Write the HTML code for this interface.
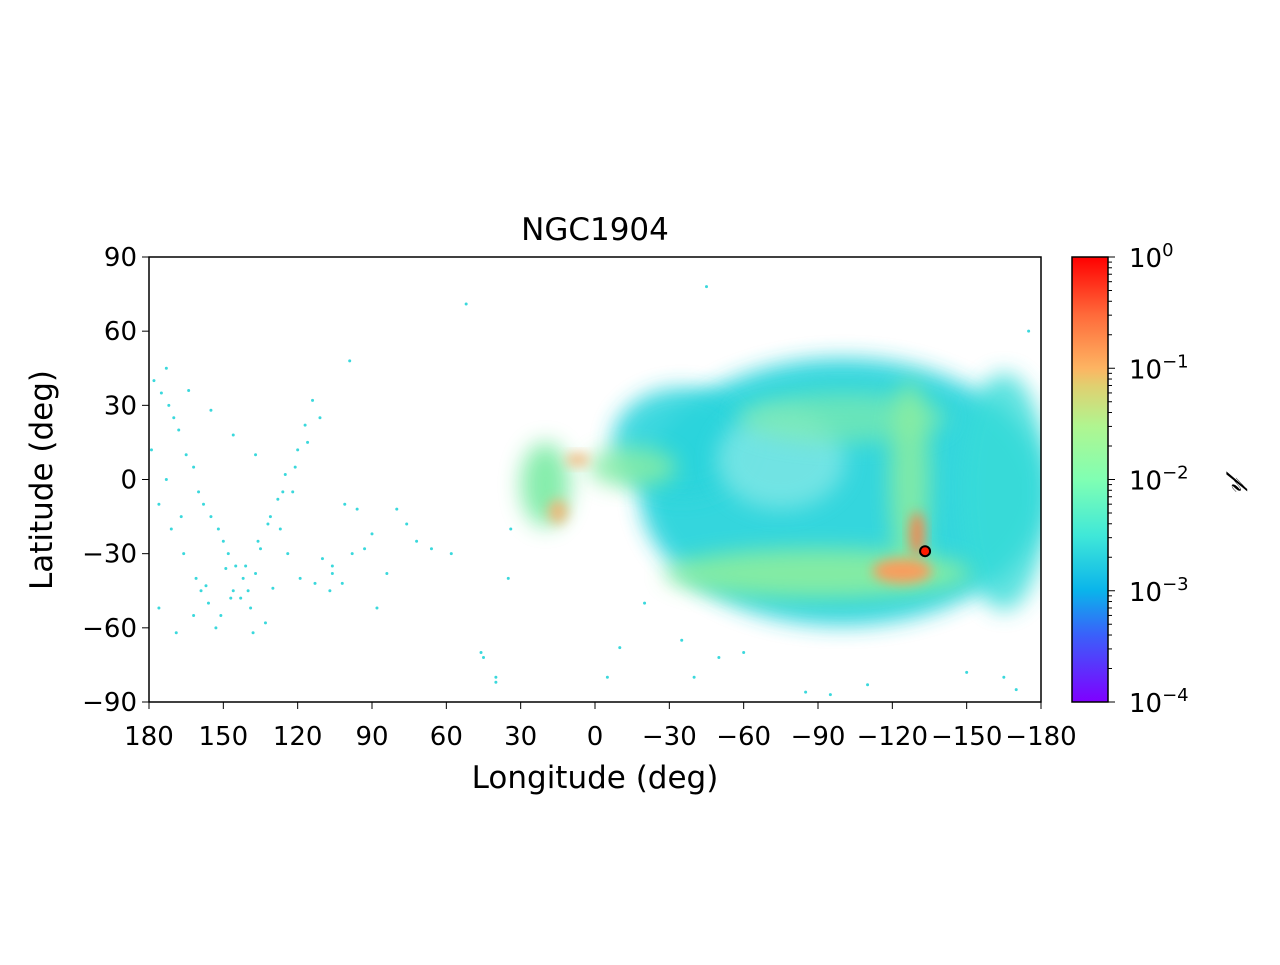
<!DOCTYPE html>
<html><head><meta charset="utf-8"><style>
body{margin:0;background:#fff}
svg text{font-family:"DejaVu Sans","Liberation Sans",sans-serif;fill:#000}
</style></head><body>
<svg id="fig" width="1280" height="960" viewBox="0 0 1280 960" xmlns="http://www.w3.org/2000/svg">
<defs>
<filter id="blur" x="-50%" y="-50%" width="200%" height="200%"><feGaussianBlur stdDeviation="11"/></filter>
<filter id="blur2" x="-50%" y="-50%" width="200%" height="200%"><feGaussianBlur stdDeviation="6"/></filter>
<linearGradient id="rainbow" x1="0" y1="1" x2="0" y2="0">
<stop offset="0" stop-color="#7f00ff"/><stop offset="0.15" stop-color="#3a60fa"/>
<stop offset="0.25" stop-color="#0ab4eb"/><stop offset="0.375" stop-color="#40e8d8"/>
<stop offset="0.5" stop-color="#80ffb3"/><stop offset="0.62" stop-color="#b0f590"/>
<stop offset="0.71" stop-color="#e0d070"/><stop offset="0.75" stop-color="#fdb462"/>
<stop offset="0.87" stop-color="#ff6a3a"/><stop offset="1" stop-color="#ff0000"/>
</linearGradient>
<clipPath id="plotclip"><rect x="149" y="257" width="892" height="445"/></clipPath>
</defs>
<text x="595" y="240" font-size="31" text-anchor="middle">NGC1904</text>
<g id="marks" clip-path="url(#plotclip)"></g>
<rect x="149" y="257" width="892" height="445" fill="none" stroke="#000" stroke-width="1.5"/>
<g id="xticks"></g>
<g id="yticks"></g>
<text x="595" y="788" font-size="31" text-anchor="middle">Longitude (deg)</text>
<text transform="translate(52,480) rotate(-90)" font-size="31" text-anchor="middle">Latitude (deg)</text>
<rect x="1072" y="257" width="36" height="445" fill="url(#rainbow)" stroke="#000" stroke-width="1.5"/>
<g id="cbticks"></g>
<text transform="translate(1232,482) rotate(90)" font-size="26" font-style="italic" text-anchor="middle" font-family="Liberation Serif">𝓅</text>
</svg>
<script>
const xTicks=[180,150,120,90,60,30,0,-30,-60,-90,-120,-150,-180];
const yTicks=[90,60,30,0,-30,-60,-90];
const cbExp=[0,-1,-2,-3,-4];
// density regions: lon, lat, half-width (deg), half-height (deg), colour
const regLon=[-100,-35,-165,-75,-100,-90,-15,-127,20,-124,-130,15,7];
const regLat=[-5,15,-5,8,25,-38,5,0,-2,-37,-22,-13,8];
const regRx=[82,28,18,26,42,62,18,8,10,12,3,4,5];
const regRy=[54,22,48,20,10,10,8,40,17,5,9,5,2.5];
const regCol=['#2cd4dc','#2cd4dc','#38dcd8','#86e8e6','#84eca8','#8cee9e','#86eca4','#90ee9c','#80eca8','#ff9a5a','#ff7e4a','#f2b070','#f2b070'];
const regOp=[0.95,0.9,0.8,0.75,0.65,0.9,0.85,0.8,0.95,0.95,0.9,0.85,0.85];
// sparse halo stars
const ptLon=[178,175,172,170,168,165,162,160,158,155,152,150,148,145,142,140,137,135,132,128,125,120,117,114,110,106,102,98,93,88,84,80,76,72,66,58,52,45,40,35,176,171,166,161,156,151,146,141,136,131,126,121,116,111,106,101,96,90,179,173,167,159,153,147,139,133,127,119,113,107,99,176,169,162,157,149,143,138,130,124,173,164,155,146,137,122,46,40,34,-5,-10,-20,-35,-40,-50,-60,-150,-165,-170,-175,-110,-95,-85,-45];
const ptLat=[40,35,30,25,20,10,5,-5,-10,-15,-20,-25,-30,-35,-40,-45,-38,-28,-18,-8,2,12,22,32,-32,-38,-42,-30,-28,-52,-38,-12,-18,-25,-28,-30,71,-72,-82,-40,-10,-20,-30,-40,-50,-55,-45,-35,-25,-15,-5,5,15,25,-35,-10,-12,-22,12,0,-15,-45,-60,-48,-52,-58,-20,-40,-42,-45,48,-52,-62,-55,-43,-36,-48,-62,-44,-30,45,36,28,18,10,-5,-70,-80,-20,-80,-68,-50,-65,-80,-72,-70,-78,-80,-85,60,-83,-87,-86,78];
const X=l=>149+(180-l)/360*892;
const Y=b=>257+(90-b)/180*445;
const NS='http://www.w3.org/2000/svg';
const marks=document.getElementById('marks');
regLon.forEach((l,i)=>{
 const e=document.createElementNS(NS,'ellipse');
 
 
 e.setAttribute('cx',X(l));e.setAttribute('cy',Y(regLat[i]));
 e.setAttribute('rx',regRx[i]/360*892);e.setAttribute('ry',regRy[i]/180*445);
 e.setAttribute('fill',regCol[i]);e.setAttribute('opacity',regOp[i]);
 e.setAttribute('filter',i>=9?'url(#blur2)':'url(#blur)');
 marks.appendChild(e);
});
ptLon.forEach((l,i)=>{
 const c=document.createElementNS(NS,'circle');
 
 
 c.setAttribute('cx',X(l));c.setAttribute('cy',Y(ptLat[i]));c.setAttribute('r',1.5);
 c.setAttribute('fill','#3ad8dc');marks.appendChild(c);
});
const cl=-132,cb=-29;
const m=document.createElementNS(NS,'circle');


m.setAttribute('cx',X(cl)+3);m.setAttribute('cy',Y(cb));m.setAttribute('r',5);
m.setAttribute('fill','#ff1a00');m.setAttribute('stroke','#000');m.setAttribute('stroke-width',2);
marks.appendChild(m);
const xg=document.getElementById('xticks');
xTicks.forEach(v=>{
 const x=X(v);
 const t=document.createElementNS(NS,'line');
 
 
 t.setAttribute('x1',x);t.setAttribute('x2',x);t.setAttribute('y1',702);t.setAttribute('y2',709);t.setAttribute('stroke','#000');
 xg.appendChild(t);
 const s=document.createElementNS(NS,'text');
 
 
 s.setAttribute('x',x);s.setAttribute('y',745);s.setAttribute('font-size','26');s.setAttribute('text-anchor','middle');
 s.textContent=v<0?'\u2212'+(-v):v;xg.appendChild(s);
});
const yg=document.getElementById('yticks');
yTicks.forEach(v=>{
 const y=Y(v);
 const t=document.createElementNS(NS,'line');
 
 
 t.setAttribute('x1',142);t.setAttribute('x2',149);t.setAttribute('y1',y);t.setAttribute('y2',y);t.setAttribute('stroke','#000');
 yg.appendChild(t);
 const s=document.createElementNS(NS,'text');
 
 
 s.setAttribute('x',137);s.setAttribute('y',y+9);s.setAttribute('font-size','26');s.setAttribute('text-anchor','end');
 s.textContent=v<0?'\u2212'+(-v):v;yg.appendChild(s);
});
const cg=document.getElementById('cbticks');
cbExp.forEach(e=>{
 const y=257+(-e)/4*445;
 const t=document.createElementNS(NS,'line');
 
 
 t.setAttribute('x1',1108);t.setAttribute('x2',1115);t.setAttribute('y1',y);t.setAttribute('y2',y);t.setAttribute('stroke','#000');
 cg.appendChild(t);
 if(e>-4){for(let k=2;k<10;k++){
  const mt=document.createElementNS(NS,'line');
  
  
  const ym=257+(-(e-1)-Math.log10(k))/4*445;
  mt.setAttribute('x1',1108);mt.setAttribute('x2',1112);mt.setAttribute('y1',ym);mt.setAttribute('y2',ym);mt.setAttribute('stroke','#000');
  cg.appendChild(mt);
 }}
 const s=document.createElementNS(NS,'text');
 
 
 s.setAttribute('x',1129);s.setAttribute('y',y+10);s.setAttribute('font-size','26');
 s.innerHTML='10<tspan dy="-11" font-size="18">'+(e<0?'\u2212'+(-e):e)+'</tspan>';
 cg.appendChild(s);
});
</script>
</body></html>
